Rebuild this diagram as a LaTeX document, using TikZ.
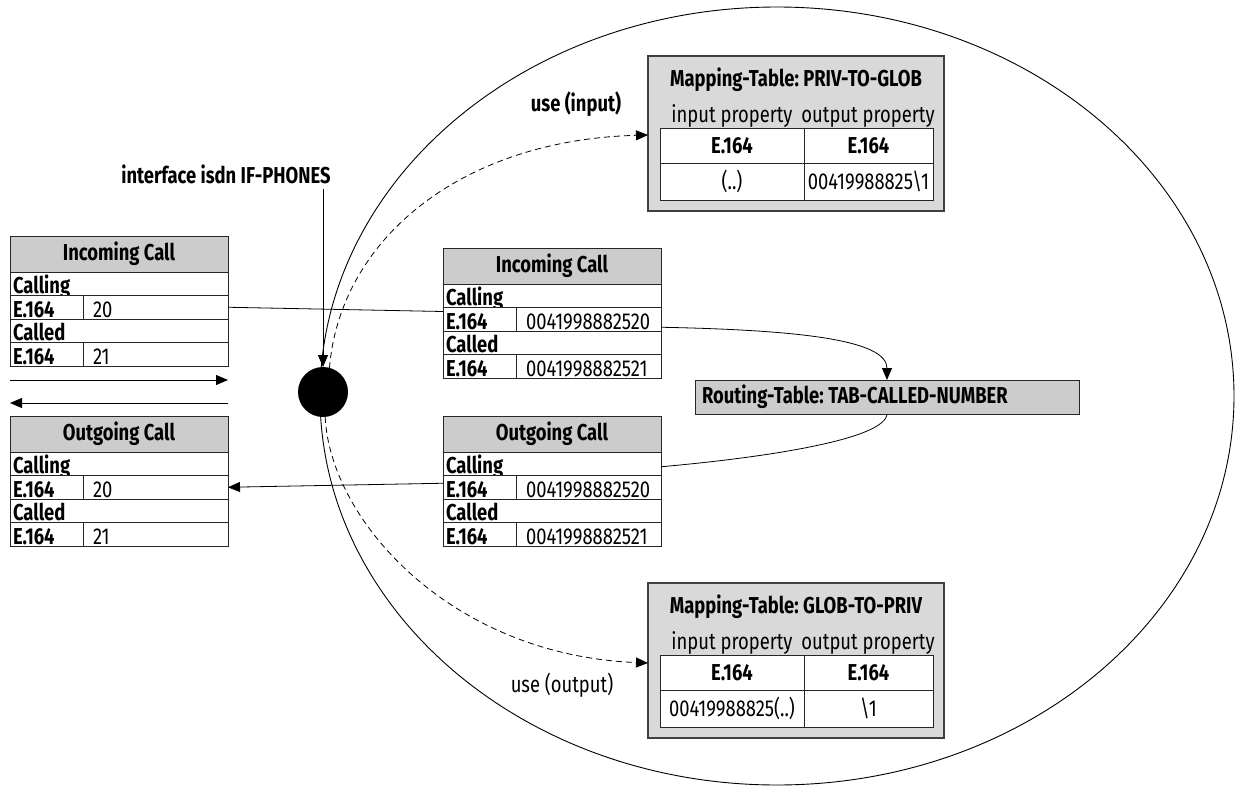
\documentclass[tikz,border=0pt]{standalone}
\usepackage{fontspec}
\setmainfont[FakeStretch=0.8]{Fira Sans}
\usetikzlibrary{arrows.meta,shapes.geometric}
\frenchspacing
\newcommand\fnt{\fontsize{23}{26}\selectfont\frenchspacing}
\newcommand\csp{\kern-3pt\ }
\tikzset{
  every node/.style={font=\fnt, inner sep=0pt, outer sep=0pt},
  box/.style={draw=black!85, line width=1pt},
  hdr/.style={box, fill=gray!40, minimum width=218pt, minimum height=36pt, font=\fnt\bfseries},
  rowbase/.style={box, fill=white, text height=20pt, text depth=0pt, inner ysep=1.75pt, inner xsep=3pt, align=left},
  rowcell/.style={rowbase, text width=212pt, font=\fnt\bfseries},
  keycell/.style={rowbase, text width=67pt, font=\fnt\bfseries},
  valcell/.style={rowbase, text width=139pt},
  mapbox/.style={draw=black!75, line width=1.5pt, fill=gray!30, minimum width=296pt, minimum height=155pt},
  mcell/.style={box, fill=white},
  arr/.style={-{Triangle[length=12pt,width=10pt]}},
  dsh/.style={dash pattern=on 6pt off 4pt, line width=0.8pt},
  conn/.style={line width=0.8pt},
}
\newcommand\calltab[6]{%
  \node[hdr, anchor=north west] (#1-h) at (#2,#3) {#4};
  \node[rowcell, anchor=north west] (#1-c) at (#1-h.south west) {Calling};
  \node[keycell, anchor=north west] (#1-k) at (#1-c.south west) {E.164};
  \node[valcell, anchor=north west] (#1-v) at (#1-k.north east) {\hspace*{7pt}#5};
  \node[rowcell, anchor=north west] (#1-d) at (#1-k.south west) {Called};
  \node[keycell, anchor=north west] (#1-k2) at (#1-d.south west) {E.164};
  \node[valcell, anchor=north west] (#1-v2) at (#1-k2.north east) {\hspace*{7pt}#6};
}
\newcommand\maptab[5]{%
  \node[mapbox, anchor=north west] (#1) at (648,#2) {};
  \node[font=\fnt\bfseries, anchor=base] (#1-title) at (796,#2+30) {#3};
  \node[anchor=base] (#1-pin) at (732,#2+66) {input property};
  \node[anchor=base] (#1-pout) at (868,#2+66) {output property};
  \node[mcell, minimum width=144pt, minimum height=35pt, anchor=north west, font=\fnt\bfseries] (#1-ki) at (660,#2+72) {E.164};
  \node[mcell, minimum width=129pt, minimum height=35pt, anchor=north west, font=\fnt\bfseries] (#1-ko) at (#1-ki.north east) {E.164};
  \node[mcell, minimum width=144pt, minimum height=37pt, anchor=north west] (#1-vi) at (#1-ki.south west) {#4};
  \node[mcell, minimum width=129pt, minimum height=37pt, anchor=north west] (#1-vo) at (#1-ki.south east) {#5};
}
\begin{document}
\begin{tikzpicture}[x=1pt,y=-1pt]
\useasboundingbox (0,0) rectangle (1235,785);
% zone
\node[ellipse, draw, line width=0.9pt, minimum width=914pt, minimum height=778pt] (zone) at (777,396) {};
% call tables
\calltab{li}{10}{236}{Incoming Call}{20}{21}
\calltab{lo}{10}{416}{Outgoing Call}{20}{21}
\calltab{mi}{443}{248}{Incoming Call}{0041998882520}{0041998882521}
\calltab{mo}{443}{416}{Outgoing Call}{0041998882520}{0041998882521}
% mapping tables
\maptab{mp1}{56}{Mapping-Table: PRIV-TO-GLOB}{(..)}{00419988825\textbackslash 1}
\maptab{mp2}{583}{Mapping-Table: GLOB-TO-PRIV}{00419988825(..)}{\textbackslash 1}
% routing table
\node[box, fill=gray!40, minimum height=34pt, anchor=north west, font=\fnt\bfseries, text width=370pt, align=left, inner xsep=7pt] (rt) at (695,380) {Routing-Table:\csp TAB-CALLED-NUMBER};
% interface
\node[circle, fill=black, minimum size=50pt] (dot) at (323,392) {};
\node[font=\fnt\bfseries, inner ysep=5pt] (ifl) at (226,174) {interface isdn IF-PHONES};
\draw[arr, conn] (ifl.south -| dot.north) -- (dot.north);
% labels
\node[font=\fnt\bfseries] (uin) at (576,104) {use (input)};
\node (uout) at (562,685) {use (output)};
% direction arrows
\coordinate (r0) at (10,380);
\coordinate (r1) at (228,380);
\coordinate (l0) at (228,403);
\coordinate (l1) at (10,403);
\draw[arr, conn] (r0) -- (r1);
\draw[arr, conn] (l0) -- (l1);
% connectors
\draw[conn] (li-v.east) -- ([yshift=-4pt]mi-k.north west);
\draw[arr, conn] ([yshift=-8pt]mi-v.east) .. controls (800,330) and (887,340) .. (rt.north);
\draw[conn] (rt.south) .. controls (885,440) and (760,458) .. ([yshift=-3pt]mo-c.east);
\draw[arr, conn] ([yshift=4pt]mo-k.west) -- (lo-v.east);
\draw[arr, dsh] (dot.75) .. controls (340,240) and (460,140) .. ([yshift=-1.5pt]mp1.west);
\draw[arr, dsh] (dot.-85) .. controls (330,520) and (450,655) .. ([yshift=-2.5pt]mp2.west);
\end{tikzpicture}
\end{document}
